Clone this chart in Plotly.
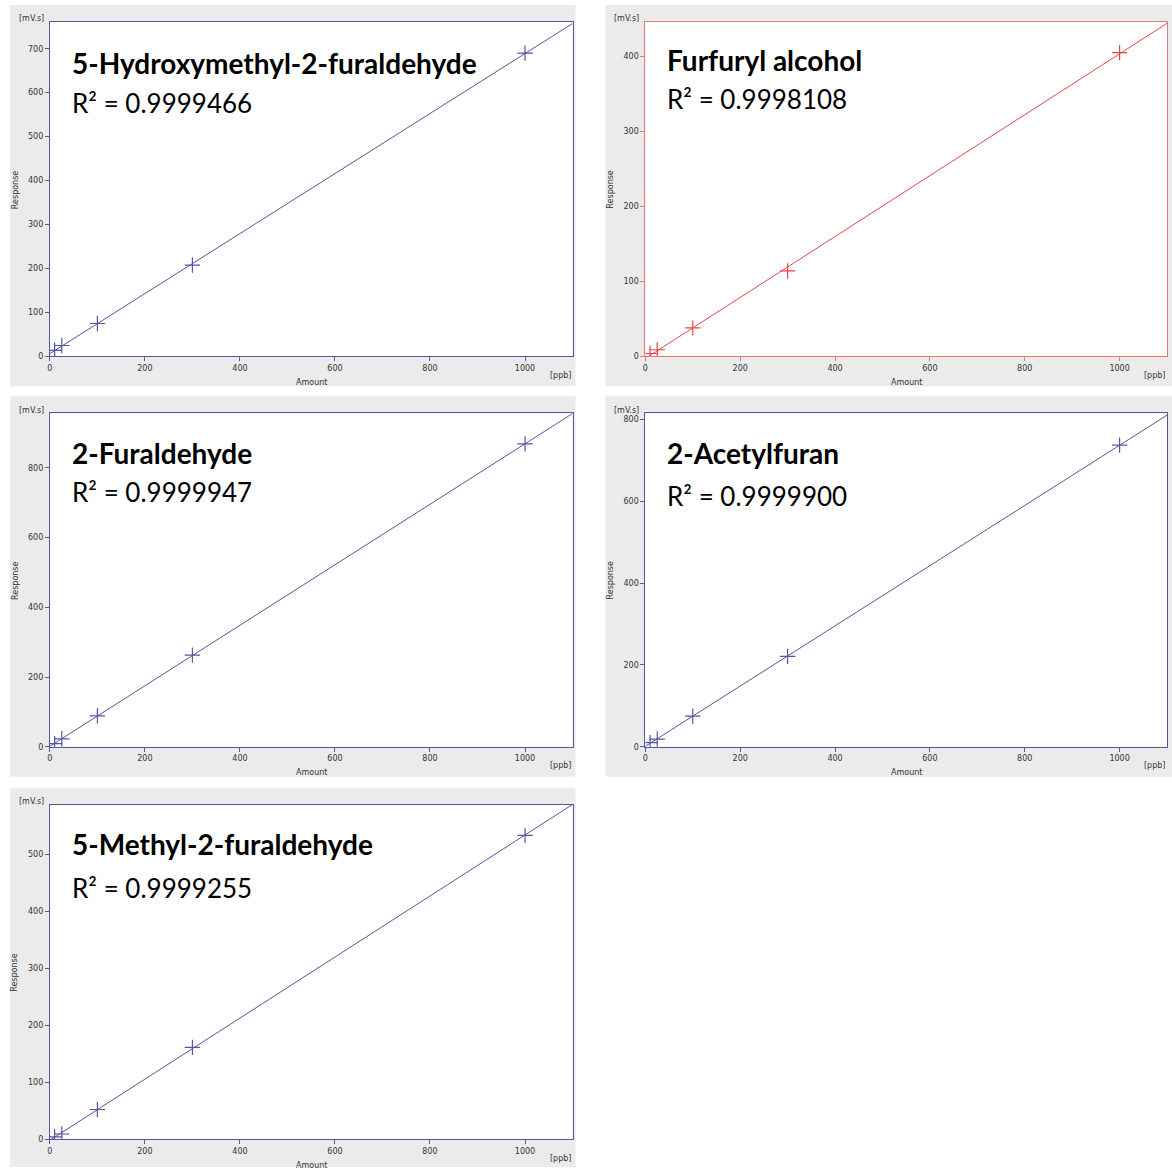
import numpy as np
import plotly.graph_objects as go

# ---------------- data ----------------
compounds = ["5-Hydroxymethyl-2-furaldehyde", "Furfuryl alcohol", "2-Furaldehyde",
             "2-Acetylfuran", "5-Methyl-2-furaldehyde"]
r2_values = ["0.9999466", "0.9998108", "0.9999947", "0.9999900", "0.9999255"]
amounts = [10, 25, 100, 300, 1000]  # ppb
resp_hmf = [14, 25, 75, 208, 690]
resp_furfuryl = [4, 9, 38, 114, 405]
resp_furaldehyde = [9, 23, 89, 263, 869]
resp_acetylfuran = [10, 19, 75, 221, 737]
resp_methylfuraldehyde = [4, 9, 52, 161, 533]
responses = [resp_hmf, resp_furfuryl, resp_furaldehyde, resp_acetylfuran, resp_methylfuraldehyde]
y_max = [761, 446, 957, 815, 587]
y_step = [100, 100, 200, 200, 100]
x_max = 1100
x_ticks = [0, 200, 400, 600, 800, 1000]

BLUE = "#5555a0"
RED = "#e04848"
RED_FRAME = "#e07a7a"
colors = [BLUE, RED, BLUE, BLUE, BLUE]
frames = [BLUE, RED_FRAME, BLUE, BLUE, BLUE]

W, H = 1172, 1173
def px(x): return x / W
def py(y): return 1 - y / H

# plot boxes in pixels (left, top, right, bottom) and grey panels
boxes = [(47, 22, 571, 358), (644, 22, 1167, 358), (47, 415, 571, 750),
         (644, 415, 1167, 750), (47, 808, 571, 1144)]
panels = [(7, 5, 574, 388), (604, 5, 1172, 388), (7, 398, 574, 780),
          (604, 398, 1172, 780), (7, 791, 574, 1172)]
title_off = [41, 38, 40, 40, 40]
r2_off = [81, 77, 79, 83, 84]

fig = go.Figure()
shapes = []
annotations = []
tick_font = dict(family="DejaVu Sans", size=8, color="#333333")

for i in range(5):
    l, t, r, b = boxes[i]
    ax = "" if i == 0 else str(i + 1)
    xa, ya = "x" + ax, "y" + ax
    amt = np.array(amounts, dtype=float)
    res = np.array(responses[i], dtype=float)
    slope, icpt = np.polyfit(amt, res, 1)
    xl = np.array([0.0, x_max])
    yl = slope * xl + icpt
    if yl[1] > y_max[i]:
        xl[1] = (y_max[i] - icpt) / slope
        yl[1] = y_max[i]
    fig.add_trace(go.Scatter(x=xl, y=yl, mode="lines", line=dict(color=colors[i], width=1),
                             xaxis=xa, yaxis=ya, showlegend=False, hoverinfo="skip"))
    fig.add_trace(go.Scatter(x=amounts, y=responses[i], mode="markers",
                             marker=dict(symbol="cross-thin", size=11,
                                         line=dict(color=colors[i], width=1.2)),
                             xaxis=xa, yaxis=ya, showlegend=False))
    common = dict(showgrid=False, zeroline=False, showline=True, mirror=True,
                  linecolor=frames[i], linewidth=1, ticks="outside", ticklen=4,
                  tickcolor=frames[i], tickfont=tick_font)
    fig.update_layout(**{
        "xaxis" + ax: dict(domain=[px(l), px(r)], range=[0, x_max], tickvals=x_ticks,
                           anchor=ya, **common),
        "yaxis" + ax: dict(domain=[py(b), py(t)], range=[0, y_max[i]],
                           dtick=y_step[i], tick0=0, anchor=xa, **common),
    })
    pl, pt, pr, pb = panels[i]
    shapes.append(dict(type="rect", xref="paper", yref="paper", x0=px(pl), x1=px(pr),
                       y0=py(pb), y1=py(pt), fillcolor="#ebebeb", line=dict(width=0),
                       layer="below"))
    shapes.append(dict(type="rect", xref="paper", yref="paper", x0=px(l), x1=px(r),
                       y0=py(b), y1=py(t), fillcolor="white", line=dict(width=0),
                       layer="below"))
    base = dict(xref="paper", yref="paper", showarrow=False)
    annotations += [
        dict(text="<b>" + compounds[i] + "</b>", x=px(l + 20), y=py(t + title_off[i]),
             xanchor="left", yanchor="middle",
             font=dict(family="Lato", size=28, color="black"), **base),
        dict(text="R² = " + r2_values[i], x=px(l + 20), y=py(t + r2_off[i]),
             xanchor="left", yanchor="middle",
             font=dict(family="Lato", size=26, color="black"), **base),
        dict(text="[mV.s]", x=px(l - 4), y=py(t - 3), xanchor="right", yanchor="middle",
             font=tick_font, **base),
        dict(text="[ppb]", x=px(r), y=py(b + 19), xanchor="right", yanchor="middle",
             font=tick_font, **base),
        dict(text="Amount", x=px((l + r) / 2), y=py(b + 26), xanchor="center",
             yanchor="middle", font=tick_font, **base),
        dict(text="Response", x=px(l - 35), y=py((t + b) / 2), xanchor="center",
             yanchor="middle", textangle=-90, font=tick_font, **base),
    ]

fig.update_layout(width=W, height=H, margin=dict(l=0, r=0, t=0, b=0),
                  paper_bgcolor="white", plot_bgcolor="rgba(0,0,0,0)",
                  shapes=shapes, annotations=annotations)
fig.write_html("out.html", config={"displayModeBar": False},
               post_script="document.body.style.margin='0';document.body.style.overflow='hidden';")
